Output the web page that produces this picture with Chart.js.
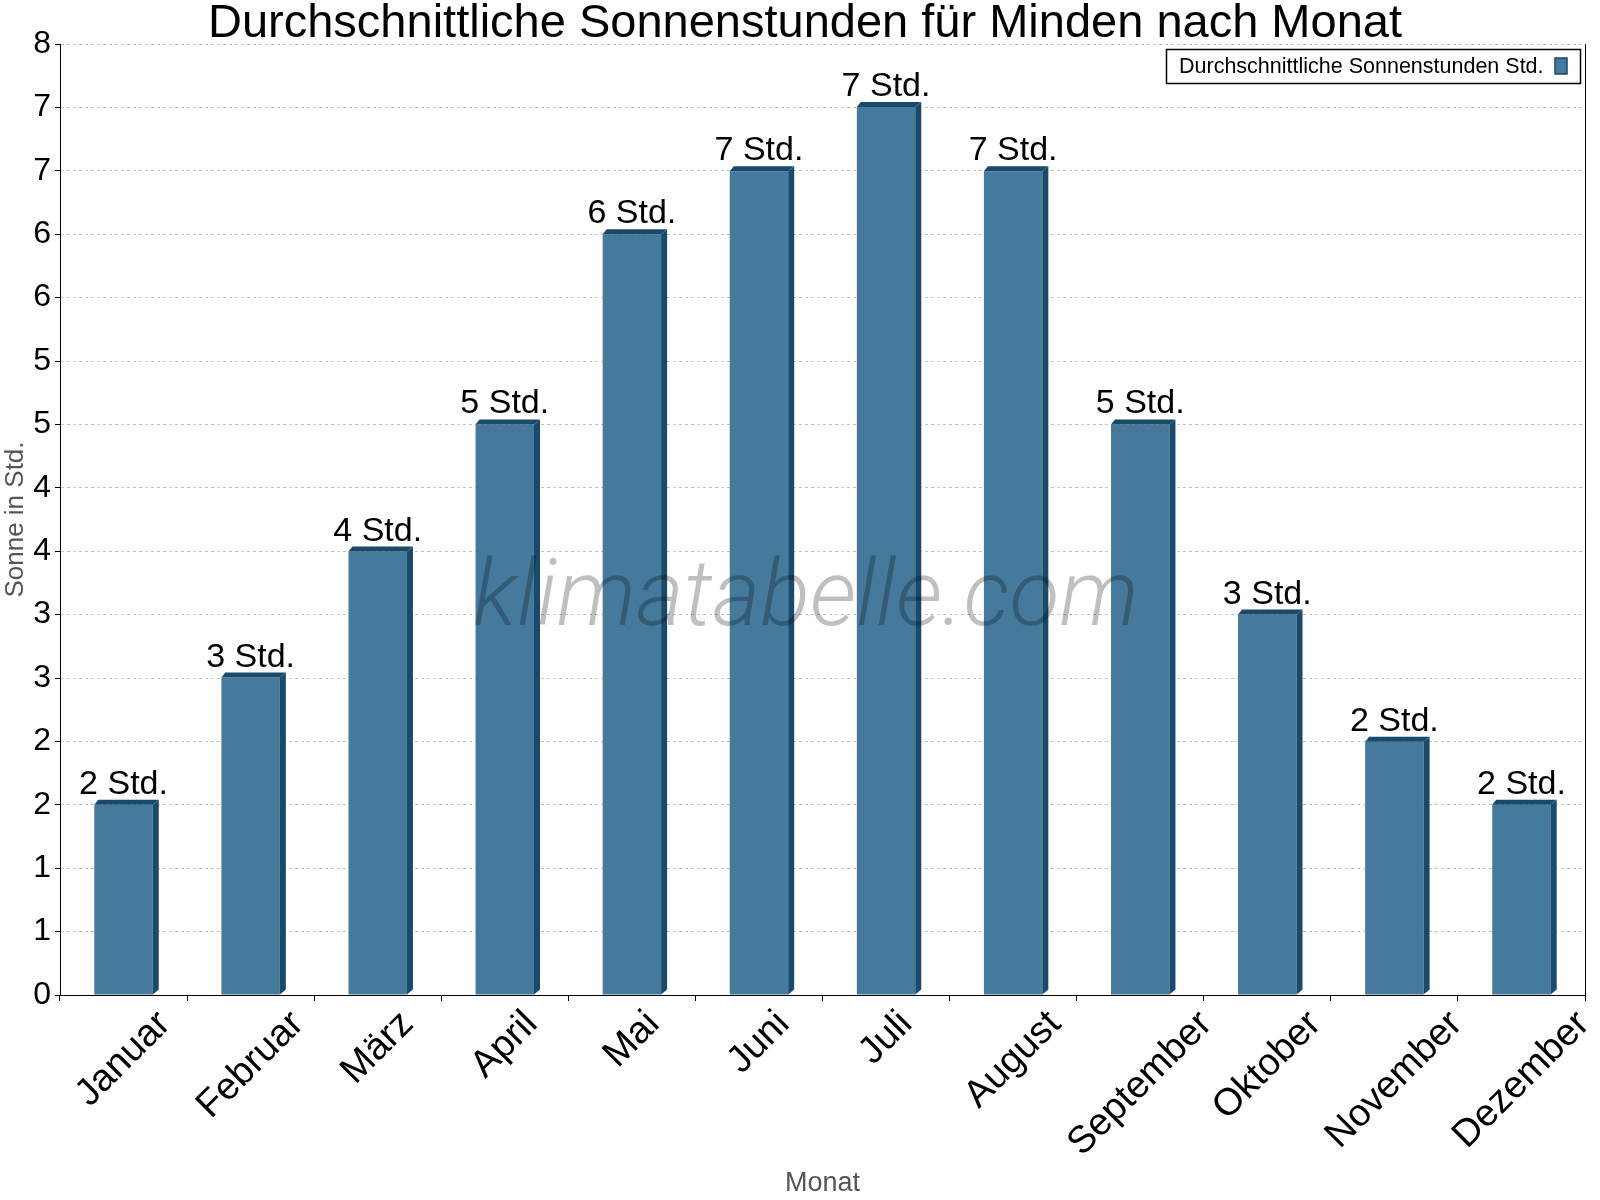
<!DOCTYPE html>
<html>
<head>
<meta charset="utf-8">
<title>Sonnenstunden Minden</title>
<script src="https://cdn.jsdelivr.net/npm/chart.js@4/dist/chart.umd.min.js"></script>
<style>
  body { margin: 0; background: #fff; }
  #wrap { width: 1600px; height: 1200px; }
</style>
</head>
<body>
<div id="wrap"><canvas id="chart" width="1600" height="1200"></canvas></div>
<script>
let months = ["Januar", "Februar", "März", "April", "Mai", "Juni", "Juli", "August", "September", "Oktober", "November", "Dezember"];
let sunHours = [1.6, 2.67, 3.73, 4.8, 6.4, 6.93, 7.47, 6.93, 4.8, 3.2, 2.13, 1.6];
let titleText = "Durchschnittliche Sonnenstunden für Minden nach Monat";
let seriesLabel = "Durchschnittliche Sonnenstunden Std.";
let unit = "Std.";
let yMax = 8;
let yTickCount = 15; // 16 labels from 0 to 8, shown rounded

let front = 'rgb(70, 122, 156)';
let dark = 'rgb(25, 74, 108)';
let font = '"Liberation Sans", Arial, sans-serif';
let xLabelSize = 38;

// 3D look: darker right side and top face
const boxPlugin = {
    id: 'box3d',
    afterDatasetsDraw(chart) {
        let ctx = chart.ctx;
        let a = chart.chartArea;
        let dx = 6, dy = 5;
        ctx.save();
        chart.getDatasetMeta(0).data.forEach(bar => {
            let l = bar.x - bar.width / 2;
            let r = bar.x + bar.width / 2;
            ctx.fillStyle = dark;
            ctx.beginPath();
            ctx.moveTo(r, bar.y);
            ctx.lineTo(r + dx, bar.y - dy);
            ctx.lineTo(r + dx, bar.base - dy);
            ctx.lineTo(r, bar.base);
            ctx.closePath();
            ctx.fill();
            ctx.beginPath();
            ctx.moveTo(l, bar.y);
            ctx.lineTo(l + dx - 2, bar.y - dy);
            ctx.lineTo(r + dx, bar.y - dy);
            ctx.lineTo(r, bar.y);
            ctx.closePath();
            ctx.fill();
        });

        // value labels
        ctx.fillStyle = '#000';
        ctx.font = '34px ' + font;
        ctx.textAlign = 'center';
        ctx.textBaseline = 'alphabetic';
        chart.getDatasetMeta(0).data.forEach((bar, i) => {
            ctx.fillText(Math.round(sunHours[i]) + ' ' + unit, bar.x, bar.y - 11);
        });

        // watermark
        ctx.font = 'italic 300 92px Roboto, ' + font;
        ctx.fillStyle = 'rgba(0, 0, 0, 0.25)';
        ctx.textAlign = 'left';
        ctx.fillText('klimatabelle.com', 473, 625);

        // right frame
        ctx.strokeStyle = '#000';
        ctx.lineWidth = 1;
        ctx.beginPath();
        ctx.moveTo(a.right + 0.5, a.top);
        ctx.lineTo(a.right + 0.5, a.bottom);
        ctx.stroke();
        ctx.restore();
    },
    afterDraw(chart) {
        let ctx = chart.ctx;
        ctx.save();
        // title
        ctx.fillStyle = '#000';
        ctx.font = '47px ' + font;
        ctx.textAlign = 'center';
        ctx.textBaseline = 'alphabetic';
        ctx.fillText(titleText, 805, 37);

        // month labels, rotated 45 degrees, bounding box centred under each category
        let xs = chart.scales.x;
        ctx.font = xLabelSize + 'px ' + font;
        ctx.textAlign = 'center';
        ctx.textBaseline = 'middle';
        months.forEach((m, i) => {
            let w = ctx.measureText(m).width;
            let half = (w + xLabelSize * 0.75) * Math.SQRT1_2 / 2;
            ctx.save();
            ctx.translate(xs.getPixelForValue(i), 1008 + half);
            ctx.rotate(-Math.PI / 4);
            ctx.fillText(m, 0, 0);
            ctx.restore();
        });

        // legend box
        ctx.textBaseline = 'alphabetic';
        ctx.fillStyle = '#fff';
        ctx.fillRect(1166.5, 49.5, 414, 34);
        ctx.strokeStyle = '#000';
        ctx.lineWidth = 1.5;
        ctx.strokeRect(1166.5, 49.5, 414, 34);
        ctx.fillStyle = '#000';
        ctx.font = '21.5px ' + font;
        ctx.textAlign = 'left';
        ctx.fillText(seriesLabel, 1179, 73);
        ctx.fillStyle = front;
        ctx.fillRect(1555, 58, 12, 16);
        ctx.strokeStyle = dark;
        ctx.lineWidth = 1.5;
        ctx.strokeRect(1555, 58, 12, 16);
        ctx.restore();
    }
};

let ctx = document.getElementById('chart').getContext('2d');

let chart = new Chart(ctx, {
    type: 'bar',
    data: {
        labels: months,
        datasets: [{
            label: seriesLabel,
            data: sunHours,
            backgroundColor: front,
            borderWidth: 0,
            barPercentage: 0.46,
            categoryPercentage: 1
        }]
    },
    options: {
        responsive: false,
        devicePixelRatio: 1,
        animation: false,
        layout: {
            padding: { left: 0, right: 15, top: 44, bottom: 0 }
        },
        plugins: {
            legend: { display: false },
            title: { display: false },
            tooltip: { enabled: false }
        },
        scales: {
            x: {
                grid: {
                    offset: true,
                    drawOnChartArea: false,
                    color: '#000',
                    tickColor: '#000',
                    tickLength: 6
                },
                border: { display: true, color: '#000', width: 1 },
                ticks: { display: false, autoSkip: false },
                title: {
                    display: true,
                    text: 'Monat',
                    color: '#555',
                    font: { family: font, size: 27 },
                    padding: 0
                },
                afterFit(scale) { scale.height = 205; }
            },
            y: {
                min: 0,
                max: yMax,
                afterBuildTicks(axis) {
                    let t = [];
                    for (let i = 0; i <= yTickCount; i++) t.push({ value: i * yMax / yTickCount });
                    axis.ticks = t;
                },
                grid: {
                    color: c => (c.tick && c.tick.value === 0) ? 'rgba(0,0,0,0)' : '#c4c4c4',
                    tickColor: '#000',
                    tickLength: 5
                },
                border: { display: true, color: '#000', width: 1, dash: [3, 3] },
                ticks: {
                    color: '#000',
                    font: { family: font, size: 32 },
                    padding: 4,
                    callback: v => Math.round(v)
                },
                title: {
                    display: true,
                    text: 'Sonne in Std.',
                    color: '#555',
                    font: { family: font, size: 26 },
                    padding: 0
                },
                afterFit(scale) { scale.width = 60; }
            }
        }
    },
    plugins: [boxPlugin]
});
</script>
</body>
</html>
